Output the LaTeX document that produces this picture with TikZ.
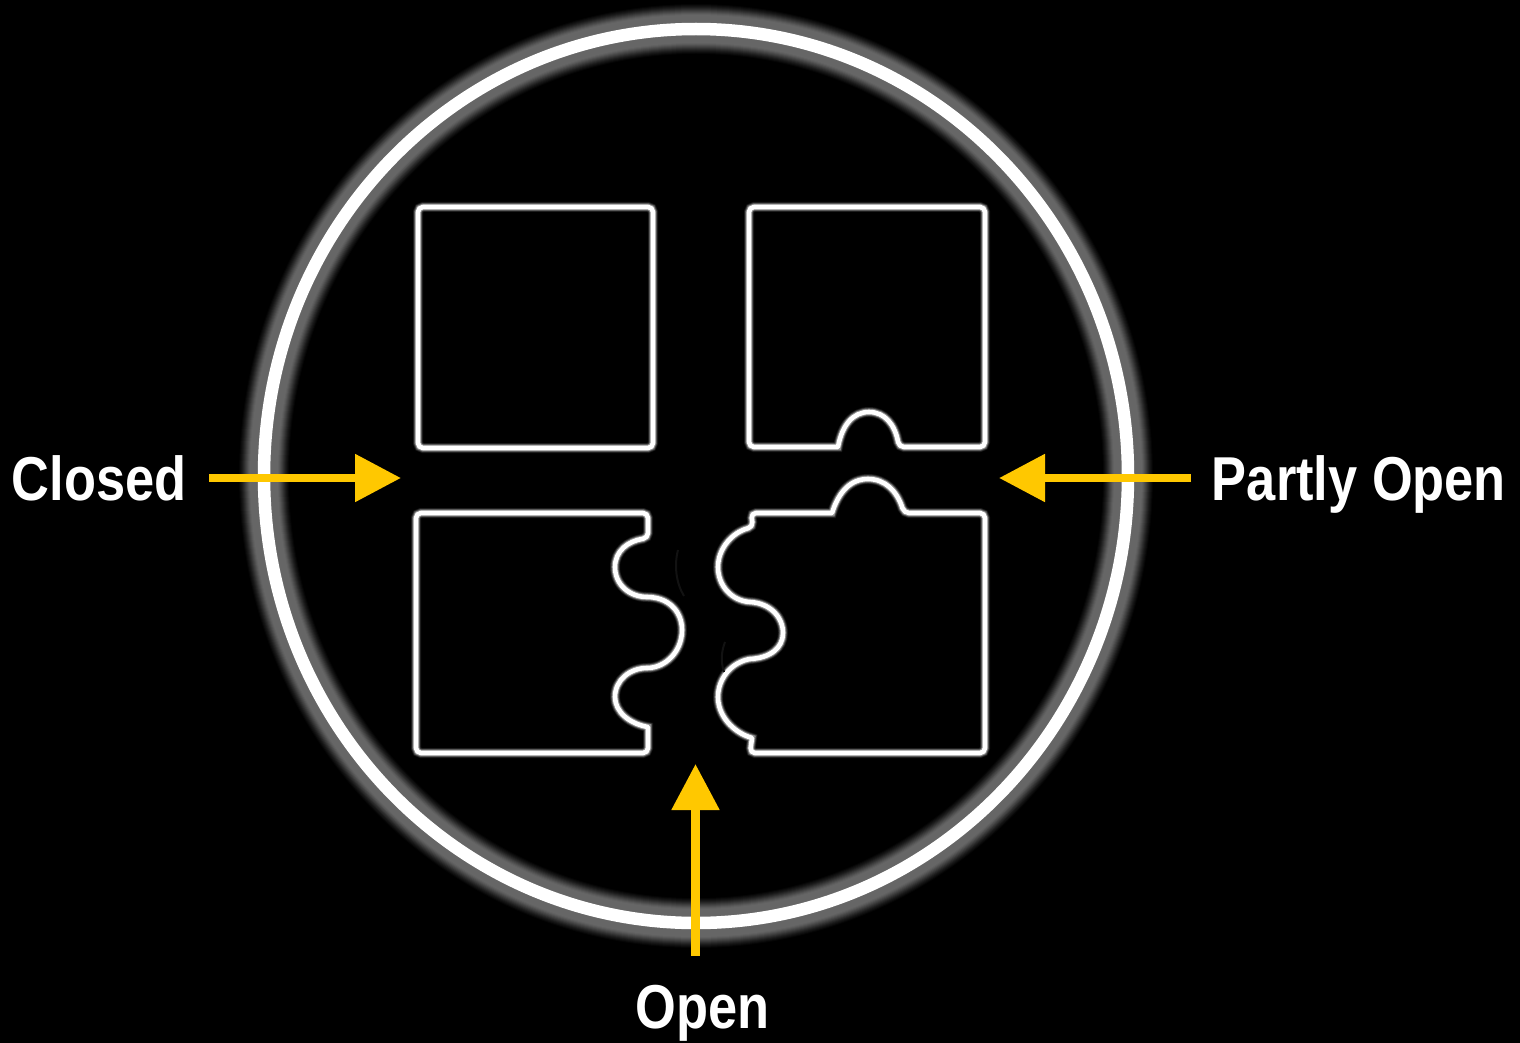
\documentclass[tikz,border=0pt]{standalone}
\usepackage{fontspec}
\setmainfont{Liberation Sans}
\newfontfamily\labelfont[FakeStretch=0.845]{Liberation Sans Bold}
\usetikzlibrary{arrows.meta}
\definecolor{arrowyellow}{HTML}{FFC800}
\tikzset{
  piece/.style={draw=white,line width=4.6pt,rounded corners=5pt,line join=round,
    preaction={draw=white!10!black,line width=10pt},
    preaction={draw=white!25!black,line width=8.4pt},
    preaction={draw=white!55!black,line width=6.6pt}},
  callout/.style={draw=arrowyellow,line width=8.5pt,-{Triangle[length=46pt,width=46pt,fill=arrowyellow]}},
  caption/.style={text=white,font=\labelfont\fontsize{62}{62}\selectfont,inner sep=0pt,anchor=base},
  faint/.style={draw=white!7!black,line width=2pt}
}
\begin{document}
\begin{tikzpicture}[x=1pt,y=-1pt]
\useasboundingbox[fill=black] (0,0) rectangle (1520,1043);
% ring and its glow
\foreach \w/\g in {50/2,48/5,46/8,44/11,42/15,40/19,38/23,36/27,34/31,32/35,30/38,28/40}{
  \draw[draw=white!\g!black,line width=\w pt] (696,476) ellipse [x radius=432,y radius=447];
}
\draw[draw=white,line width=12.5pt] (696,476) ellipse [x radius=432,y radius=447];
% top-left piece
\path[piece] (418,207) -- (653,207) -- (653,448) -- (418,448) -- cycle;
% top-right piece
\path[piece] (749,207) -- (985,207) -- (985,447) -- (899,447) [sharp corners]
  .. controls (895,425) and (885,412) .. (869,412)
  .. controls (853,412) and (842,425) .. (838,447) [rounded corners=5pt] -- (749,447) -- cycle;
% bottom-left piece
\path[piece] (416,513) -- (648,513) -- (648,538) [sharp corners]
  .. controls (628,541) and (615,551) .. (615,567)
  .. controls (615,585) and (630,597) .. (647,597)
  .. controls (667,597) and (682,610) .. (682,630)
  .. controls (682,652) and (665,668) .. (647,668)
  .. controls (630,668) and (615,680) .. (615,697)
  .. controls (615,712) and (630,724) .. (648,727)
  [rounded corners=5pt] -- (648,753) -- (416,753) -- cycle;
% bottom-right piece
\path[piece] (985,513) -- (904,513) [sharp corners]
  .. controls (897,491) and (885,479) .. (868,479)
  .. controls (851,479) and (839,491) .. (832,513)
  [rounded corners=5pt] -- (751,513) -- (753,527) [sharp corners]
  .. controls (733,532) and (718,548) .. (718,567)
  .. controls (718,586) and (732,601) .. (750,602)
  .. controls (770,603) and (783,617) .. (783,633)
  .. controls (783,648) and (770,658) .. (750,659)
  .. controls (732,662) and (718,678) .. (718,697)
  .. controls (718,715) and (732,732) .. (752,738)
  [rounded corners=5pt] -- (750,753) -- (985,753) -- cycle;
% faint traces
\draw[faint] (678,550) .. controls (674,565) and (676,583) .. (684,596);
\draw[faint] (724,672) .. controls (720,660) and (722,650) .. (725,642);
% labels
\node[caption] (closed) at (99,500) {Closed};
\node[caption] (partly) at (1359,500) {Partly Open};
\node[caption] (open) at (702.5,1028) {Open};
% arrow ends
\coordinate (closedtail) at (209,478);
\coordinate (closedtip) at (401,478);
\coordinate (partlytail) at (1191,478);
\coordinate (partlytip) at (999,478);
\coordinate (opentail) at (695.5,956);
\coordinate (opentip) at (695.5,764);
\draw[callout] (closedtail) -- (closedtip);
\draw[callout] (partlytail) -- (partlytip);
\draw[callout] (opentail) -- (opentip);
\end{tikzpicture}
\end{document}
